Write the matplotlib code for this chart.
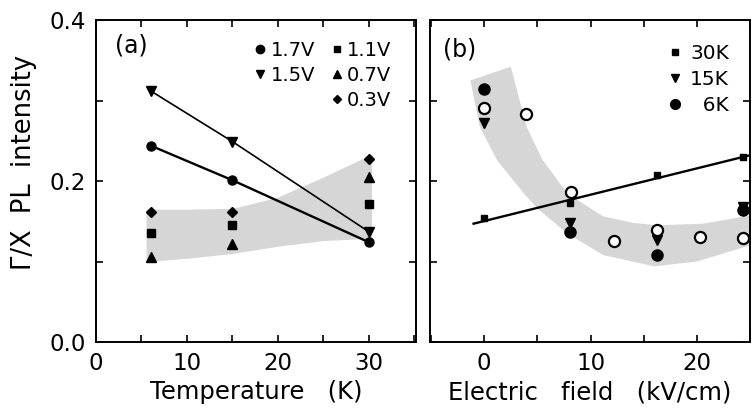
import numpy as np
import matplotlib.pyplot as plt
from matplotlib.lines import Line2D

plt.rcParams['font.family'] = ['DejaVu Sans']

# ---- panel (a): ratio vs temperature, one series per bias ----
temp = [6, 15, 30]
v17 = [0.244, 0.201, 0.124]
v15 = [0.312, 0.249, 0.137]
v11 = [0.135, 0.145, 0.172]
v07 = [0.105, 0.122, 0.205]
v03 = [0.161, 0.161, 0.227]

# shaded guide band in (a)
band_a_t = [5.5, 10, 15, 20, 25, 30.3]
band_a_top = [0.165, 0.165, 0.166, 0.180, 0.205, 0.233]
band_a_bot = [0.100, 0.104, 0.110, 0.119, 0.126, 0.129]

# ---- panel (b): ratio vs electric field, one series per temperature ----
field30 = [0, 8.1, 16.3, 24.3]
k30 = [0.154, 0.173, 0.2075, 0.230]
field15 = [0, 8.1, 16.3, 24.3]
k15 = [0.272, 0.148, 0.127, 0.168]
field6 = [0, 8.1, 16.3, 24.3]
k6 = [0.314, 0.137, 0.108, 0.164]
field_open = [0, 3.9, 8.2, 12.2, 16.3, 20.3, 24.3]
k_open = [0.291, 0.283, 0.186, 0.125, 0.139, 0.130, 0.129]
fit30_x = [-1.0, 25.0]
fit30_y = [0.147, 0.232]

# shaded guide band in (b), outline going round the polygon
band_b_x = [-1.3, 2.5, 4.0, 5.5, 7.8, 10.0, 11.2, 14.0, 16.3, 20.6, 25.0,
            25.0, 20.0, 16.0, 11.2, 7.8, 5.0, 3.7, 1.2, -0.4, -1.3]
band_b_y = [0.325, 0.342, 0.267, 0.226, 0.185, 0.166, 0.156, 0.148, 0.145, 0.147, 0.157,
            0.120, 0.100, 0.094, 0.108, 0.135, 0.166, 0.185, 0.226, 0.267, 0.325]

band_col = '#d6d6d6'
ms = 6.5

fig = plt.figure(figsize=(7.52, 4.15), dpi=100)
ax1 = fig.add_axes((0.1277, 0.1759, 0.4255, 0.7759))
ax2 = fig.add_axes((0.5718, 0.1759, 0.4255, 0.7759))

for ax in (ax1, ax2):
    ax.set_ylim(0, 0.4)
    ax.set_yticks([0, 0.2, 0.4])
    ax.set_yticks([0.1, 0.3], minor=True)
    ax.tick_params(which='both', direction='in', top=True, right=True,
                   length=5, width=1.2, labelsize=16.5, pad=7)
    for s in ax.spines.values():
        s.set_linewidth(1.4)

# (a)
ax1.fill_between(band_a_t, band_a_bot, band_a_top, color=band_col, lw=0, zorder=0)
ax1.plot(temp, v15, '-', color='k', lw=1.2, marker='v', ms=ms)
ax1.plot(temp, v17, '-', color='k', lw=1.7, marker='o', ms=ms)
ax1.plot(temp, v11, 's', color='k', ms=ms - 0.5)
ax1.plot(temp, v07, '^', color='k', ms=ms)
ax1.plot(temp, v03, 'D', color='k', ms=ms - 1.5)
ax1.set_xlim(0, 35.2)
ax1.set_xticks([0, 10, 20, 30])
ax1.set_xticks([5, 15, 25, 35], minor=True)
ax1.set_yticklabels(['0.0', '0.2', '0.4'])
ax1.set_xlabel('Temperature   (K)', fontsize=17.5, labelpad=4)
ax1.set_ylabel('Γ/X  PL  intensity', fontsize=18.5)
ax1.yaxis.set_label_coords(-0.185, 0.557)
ax1.text(0.06, 0.922, '(a)', transform=ax1.transAxes, fontsize=17, va='center')

hs = [Line2D([], [], ls='', marker='o', color='k', ms=ms - 0.5),
      Line2D([], [], ls='', marker='v', color='k', ms=ms - 0.5),
      Line2D([], [], ls='', marker='', color='none'),
      Line2D([], [], ls='', marker='s', color='k', ms=ms - 1.5),
      Line2D([], [], ls='', marker='^', color='k', ms=ms - 1),
      Line2D([], [], ls='', marker='D', color='k', ms=ms - 2.5)]
labs = ['1.7V', '1.5V', '', '1.1V', '0.7V', '0.3V']
ax1.legend(hs, labs, ncol=2, loc='upper left', frameon=False, fontsize=14,
           handlelength=0.5, handletextpad=0.3, columnspacing=0.85,
           labelspacing=0.3, borderaxespad=0, borderpad=0,
           bbox_to_anchor=(0.497, 0.935))

# (b)
ax2.fill(band_b_x, band_b_y, color=band_col, lw=0, zorder=0)
ax2.plot(fit30_x, fit30_y, '-', color='k', lw=1.7)
ax2.plot(field30, k30, 's', color='k', ms=ms - 1.5)
ax2.plot(field15, k15, 'v', color='k', ms=ms)
ax2.plot(field6, k6, 'o', color='k', ms=ms + 1.5)
ax2.plot(field_open, k_open, 'o', mfc='white', mec='k', mew=1.6, ms=ms + 1.5)
ax2.set_xlim(-5.1, 25)
ax2.set_xticks([0, 10, 20])
ax2.set_xticks([-5, 5, 15, 25], minor=True)
ax2.set_yticklabels([])
ax2.set_xlabel('Electric   field   (kV/cm)', fontsize=17.5, labelpad=4)
ax2.text(0.04, 0.907, '(b)', transform=ax2.transAxes, fontsize=17, va='center')

hs2 = [Line2D([], [], ls='', marker='s', color='k', ms=ms - 1.5),
       Line2D([], [], ls='', marker='v', color='k', ms=ms - 0.5),
       Line2D([], [], ls='', marker='o', color='k', ms=ms + 0.5)]
ax2.legend(hs2, ['30K', '15K', '  6K'], loc='upper left', frameon=False,
           fontsize=14.5, handlelength=0.6, handletextpad=0.45,
           labelspacing=0.35, borderaxespad=0, borderpad=0,
           bbox_to_anchor=(0.747, 0.925))

fig.savefig('out.png', dpi=100)
